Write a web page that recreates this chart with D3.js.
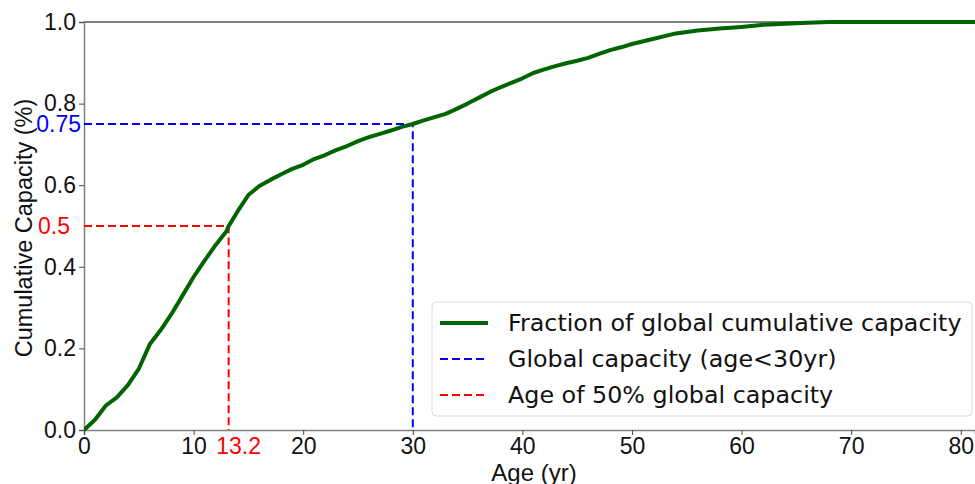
<!DOCTYPE html>
<html><head><meta charset="utf-8">
<script src="https://cdn.jsdelivr.net/npm/d3@7"></script>
<style>body{margin:0;background:#fff}svg{display:block}</style>
</head><body>
<svg id="c" width="975" height="484"></svg>
<script>
const ages = [0,1,2,3,4,5,6,7,8,9,10,11,12,13,13.2,14,15,16,17,18,19,20,21,22,23,24,25,26,27,28,29,30,31,32,33,34,35,36,37,38,39,40,41,42,43,44,45,46,47,48,49,50,52,54,56,58,60,62,64,66,68,70,75,80,85];
const fractions = [0,0.025,0.06,0.08,0.11,0.15,0.21,0.245,0.285,0.33,0.375,0.415,0.453,0.487,0.5,0.535,0.576,0.598,0.613,0.627,0.64,0.65,0.664,0.674,0.686,0.696,0.708,0.718,0.726,0.734,0.743,0.75,0.759,0.767,0.775,0.787,0.80,0.814,0.828,0.84,0.851,0.862,0.875,0.884,0.892,0.899,0.905,0.912,0.922,0.931,0.938,0.946,0.959,0.972,0.979,0.984,0.988,0.993,0.996,0.998,1.0,1.0,1.0,1.0,1.0];
const xTicks = [0,10,20,30,40,50,60,70,80];
const yTicks = [0,0.2,0.4,0.6,0.8,1.0];
const medianAge = 13.2, medianFrac = 0.5;
const cutAge = 30, cutFrac = 0.75;
const legendLabels = ["Fraction of global cumulative capacity","Global capacity (age<30yr)","Age of 50% global capacity"];

const svg = d3.select("#c");
const L=84, R=975, T=22, B=430;
const x = d3.scaleLinear().domain([0,81.3]).range([L,R]);
const y = d3.scaleLinear().domain([0,1]).range([B,T]);
const tickFont = "'Liberation Sans', Arial, sans-serif";
const FS = 23;

svg.append("clipPath").attr("id","cp").append("rect").attr("x",L).attr("y",T-3).attr("width",R-L).attr("height",B-T+6);

// top spine
svg.append("line").attr("x1",L).attr("x2",R).attr("y1",T).attr("y2",T).attr("stroke","#000").attr("stroke-width",1.2);

// x axis
const xa = svg.append("g").attr("transform",`translate(0,${B})`)
  .call(d3.axisBottom(x).tickValues(xTicks).tickSize(5).tickPadding(3).tickFormat(d3.format("d")));
xa.select(".domain").attr("stroke","#808080").attr("stroke-width",1.5);
xa.selectAll(".tick line").attr("stroke","#444");
xa.selectAll("text").attr("font-family",tickFont).attr("font-size",FS).attr("fill","#111");

const ya = svg.append("g").attr("transform",`translate(${L},0)`)
  .call(d3.axisLeft(y).tickValues(yTicks).tickSize(5).tickPadding(3).tickFormat(d3.format(".1f")));
ya.select(".domain").attr("stroke","#808080").attr("stroke-width",1.5);
ya.selectAll(".tick line").attr("stroke","#444");
ya.selectAll("text").attr("font-family",tickFont).attr("font-size",FS).attr("fill","#111");

// extra labels
svg.append("text").attr("x",L-3).attr("y",y(cutFrac)).attr("dy","0.35em").attr("text-anchor","end")
  .attr("font-family",tickFont).attr("font-size",FS).attr("fill","blue").text(String(cutFrac));
svg.append("text").attr("x",L-14).attr("y",y(medianFrac)).attr("dy","0.35em").attr("text-anchor","end")
  .attr("font-family",tickFont).attr("font-size",FS).attr("fill","red").text(String(medianFrac));
svg.append("text").attr("x",x(medianAge)+10).attr("y",B+8).attr("dy","0.71em").attr("text-anchor","middle")
  .attr("font-family",tickFont).attr("font-size",FS).attr("fill","red").text(String(medianAge));

// reference lines
const dash = "8,4";
svg.append("path").attr("d",`M${x(0)},${y(cutFrac)}H${x(cutAge)}V${y(0)}`).attr("fill","none")
  .attr("stroke","blue").attr("stroke-width",2).attr("stroke-dasharray",dash);
svg.append("path").attr("d",`M${x(0)},${y(medianFrac)}H${x(medianAge)}V${y(0)}`).attr("fill","none")
  .attr("stroke","red").attr("stroke-width",2).attr("stroke-dasharray",dash);

// curve
const line = d3.line().x((d,i)=>x(ages[i])).y((d,i)=>y(fractions[i]));
svg.append("path").datum(fractions).attr("d",line).attr("clip-path","url(#cp)")
  .attr("fill","none").attr("stroke","#006400").attr("stroke-width",4).attr("stroke-linejoin","round");

// axis labels
svg.append("text").attr("x",534).attr("y",481).attr("text-anchor","middle")
  .attr("font-family",tickFont).attr("font-size",24).attr("fill","#111").text("Age (yr)");
svg.append("text").attr("transform","translate(32,228) rotate(-90)").attr("text-anchor","middle")
  .attr("font-family",tickFont).attr("font-size",23.5).attr("fill","#111").text("Cumulative Capacity (%)");

// legend
const lg = svg.append("g").attr("transform","translate(432,302)");
lg.append("rect").attr("width",540).attr("height",114).attr("rx",4).attr("fill","#fff").attr("fill-opacity",0.85)
  .attr("stroke","#d9d9d9").attr("stroke-width",1);
const styles=[{c:"#006400",w:4,d:null},{c:"blue",w:2,d:"8,4"},{c:"red",w:2,d:"8,4"}];
legendLabels.forEach((t,i)=>{
  const yy = 21+i*36;
  lg.append("line").attr("x1",8).attr("x2",56).attr("y1",yy).attr("y2",yy).attr("stroke",styles[i].c)
    .attr("stroke-width",styles[i].w).attr("stroke-dasharray",styles[i].d);
  lg.append("text").attr("x",76).attr("y",yy).attr("dy","0.35em").attr("font-family","'DejaVu Sans', sans-serif")
    .attr("font-size",23.8).attr("fill","#111").text(t);
});
</script>
</body></html>
